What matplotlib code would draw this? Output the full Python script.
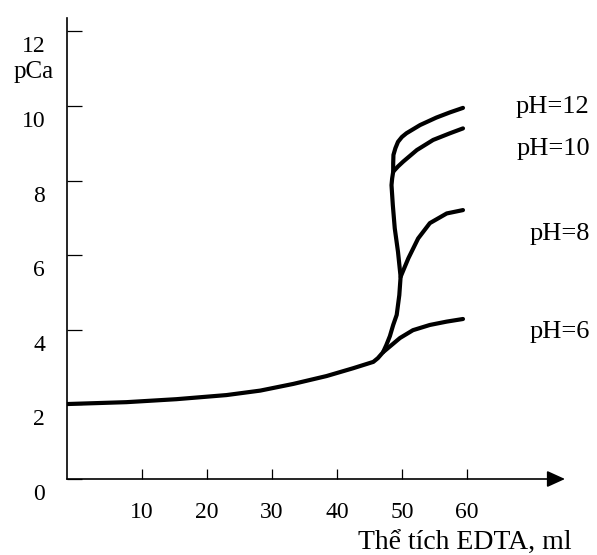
import matplotlib
matplotlib.use("Agg")
import matplotlib.pyplot as plt
import matplotlib.transforms as mtransforms

plt.rcParams["font.family"] = ["Liberation Serif", "DejaVu Serif"]

# ----------------------------
# data (V EDTA in ml, pCa)
# ----------------------------
base_v = [-1.5, 7.6, 15.3, 23.0, 28.2, 33.3, 38.4, 42.5, 45.6, 46.3, 47.1]
base_p = [2.01, 2.06, 2.14, 2.25, 2.37, 2.55, 2.76, 2.97, 3.14, 3.24, 3.40]

ph6_v = [47.1, 48.2, 49.7, 51.7, 54.3, 56.9, 59.4]
ph6_p = [3.40, 3.56, 3.78, 3.99, 4.13, 4.22, 4.29]

# steep jump near the equivalence point
jump_v = [47.1, 47.6, 48.15, 48.66, 49.2, 49.6, 49.8, 49.4, 48.9, 48.6, 48.4, 48.5, 48.66]
jump_p = [3.40, 3.59, 3.83, 4.13, 4.40, 4.93, 5.42, 6.09, 6.72, 7.35, 7.88, 8.06, 8.24]

ph12_v = [48.66, 48.66, 48.7, 49.0, 49.4, 50.0, 50.7, 52.8, 55.3, 57.4, 59.4]
ph12_p = [8.24, 8.47, 8.69, 8.87, 9.04, 9.17, 9.27, 9.49, 9.69, 9.83, 9.95]

ph10_v = [48.66, 49.4, 50.2, 52.3, 54.8, 57.4, 59.4]
ph10_p = [8.24, 8.38, 8.51, 8.82, 9.09, 9.27, 9.40]

ph8_v = [49.8, 51.0, 52.5, 54.3, 56.9, 59.4]
ph8_p = [5.42, 5.92, 6.45, 6.86, 7.12, 7.21]

ph_labels = ["pH=12", "pH=10", "pH=8", "pH=6"]
ph_label_y = [9.80, 8.69, 6.41, 3.78]

x_ticks = [10, 20, 30, 40, 50, 60]
y_ticks = [0, 2, 4, 6, 8, 10, 12]

# ----------------------------
# figure
# ----------------------------
fig = plt.figure(figsize=(5.97, 5.55), dpi=100)
ax = fig.add_axes([67 / 597, 76 / 555, 498 / 597, 461 / 555])

line_kw = dict(color="black", lw=3, solid_capstyle="round", solid_joinstyle="round")
ax.plot(base_v + ph6_v[1:], base_p + ph6_p[1:], **line_kw)
ax.plot(jump_v + ph12_v[1:], jump_p + ph12_p[1:], **line_kw)
ax.plot(ph10_v, ph10_p, **line_kw)
ax.plot(ph8_v, ph8_p, **line_kw)

ax.set_xlim(-1.54, 75.1)
ax.set_ylim(0, 12.36)

for side in ["top", "right", "bottom"]:
    ax.spines[side].set_visible(False)
ax.spines["left"].set_linewidth(1.2)

# x axis drawn as an arrow
ax.annotate("", xy=(1, 0), xytext=(0, 0), xycoords="axes fraction",
            arrowprops=dict(arrowstyle="-|>,head_length=1.1,head_width=0.5",
                            mutation_scale=10, lw=1.2, color="black",
                            shrinkA=0, shrinkB=0))

ax.set_xticks(x_ticks)
ax.set_yticks(y_ticks)
ax.set_xticklabels([str(t) for t in x_ticks])
ax.set_yticklabels([str(t) for t in y_ticks])
ax.tick_params(axis="y", direction="in", length=10.8, width=0.9, pad=15.8, labelsize=17)
ax.tick_params(axis="x", direction="in", length=7.2, width=0.9, pad=16.5, labelsize=17)

# y labels sit a bit below their ticks
offset = mtransforms.ScaledTranslation(0, -13 / 100, fig.dpi_scale_trans)
for lbl in ax.get_yticklabels():
    lbl.set_transform(lbl.get_transform() + offset)

for text, yv in zip(ph_labels, ph_label_y):
    ax.text(78.9, yv, text, ha="right", va="baseline", fontsize=19)

fig.text(34 / 597, 1 - 72 / 555, "pCa", ha="center", va="center", fontsize=18)
fig.text(572 / 597, 1 - 550 / 555, "Thể tích EDTA, ml", ha="right", va="baseline", fontsize=20)

fig.savefig("out.png", dpi=100)
